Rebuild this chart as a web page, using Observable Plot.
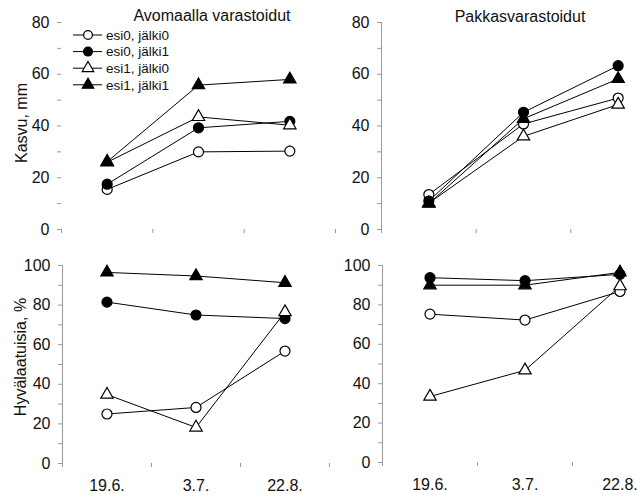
<!DOCTYPE html>
<html><head><meta charset="utf-8">
<script src="https://cdn.jsdelivr.net/npm/d3@7"></script>
<script src="https://cdn.jsdelivr.net/npm/@observablehq/plot@0.6"></script>
<style>
body{margin:0;background:#fff;}
#chart{position:relative;width:637px;height:499px;background:#fff;overflow:hidden;font-family:"Liberation Sans",Arial,sans-serif;}
#chart svg{position:absolute;left:0;top:0;}
</style></head><body><div id="chart"></div>
<script>
// ---- data ----
const dates = ["19.6.", "3.7.", "22.8."];
const seriesNames = ["esi0, jälki0", "esi0, jälki1", "esi1, jälki0", "esi1, jälki1"];
const seriesSymbols = ["circle", "circle", "triangle", "triangle"];
const seriesFills = ["white", "black", "white", "black"];

const panelTitles = ["Avomaalla varastoidut", "Pakkasvarastoidut"];
const rowLabels = ["Kasvu, mm", "Hyvälaatuisia, %"];

// Kasvu, mm — rows follow seriesNames, columns follow dates
const kasvuAvomaa = [
  [15.5, 30.0, 30.3],
  [17.5, 39.3, 41.8],
  [26.0, 43.5, 40.3],
  [26.2, 55.8, 58.0]
];
const kasvuPakkas = [
  [13.5, 40.8, 50.8],
  [11.0, 45.3, 63.3],
  [10.2, 36.0, 48.3],
  [10.0, 42.8, 58.2]
];
// Hyvälaatuisia, %
const hyvaAvomaa = [
  [25.0, 28.3, 56.8],
  [81.5, 75.0, 73.2],
  [34.8, 18.2, 76.5],
  [96.5, 94.7, 91.3]
];
const hyvaPakkas = [
  [75.3, 72.3, 86.8],
  [93.8, 92.3, 95.5],
  [33.5, 46.8, 89.5],
  [90.0, 90.0, 96.5]
];
const kasvuTicks = [0, 20, 40, 60, 80];
const hyvaTicks = [0, 20, 40, 60, 80, 100];

// ---- layout ----
const W = 637, H = 499;
const FONT = '"Liberation Sans", Arial, sans-serif';
const chart = document.getElementById("chart");

function toRows(values) {
  const rows = [];
  values.forEach((vals, s) => vals.forEach((v, i) => rows.push({
    i, v, s, name: seriesNames[s], symbol: seriesSymbols[s], fill: seriesFills[s]
  })));
  return rows;
}

const xDomain = [-0.5, dates.length - 0.5];
const boundaries = d3.range(dates.length + 1).map(k => k - 0.5);
const centers = d3.range(dates.length);

function panel({values, ticks, xRange, yRange, axisLine, xLabels}) {
  const rows = toRows(values);
  const yMax = ticks[ticks.length - 1];
  const step = ticks[1] - ticks[0];
  const minor = d3.range(0, yMax + 0.001, step / 2);
  const marks = [
    Plot.axisY({ticks: minor, tickSize: 4, tickFormat: () => "", stroke: "#9a9a9a", label: null}),
    Plot.axisY({ticks, tickSize: 0, tickPadding: 12, fontSize: 16, fill: "#111", label: null}),
    Plot.axisX({ticks: boundaries, tickSize: 4, tickFormat: () => "", stroke: "#9a9a9a", label: null})
  ];
  if (xLabels) marks.push(Plot.axisX({ticks: centers, tickSize: 0, tickPadding: 16, fontSize: 16, fill: "#111", tickFormat: i => dates[i], label: null}));
  if (axisLine) marks.push(Plot.ruleX([xDomain[0]], {stroke: "#9a9a9a", strokeWidth: 1}));
  marks.push(
    Plot.line(rows, {x: "i", y: "v", z: "s", stroke: "black", strokeWidth: 1}),
    Plot.dot(rows.filter(d => d.symbol === "circle"), {x: "i", y: "v", r: 5, symbol: "circle", fill: "fill", stroke: "black", strokeWidth: 1.2}),
    Plot.dot(rows.filter(d => d.symbol === "triangle"), {x: "i", y: "v", r: 4.6, symbol: "triangle", fill: "fill", stroke: "black", strokeWidth: 1.2})
  );
  const svg = Plot.plot({
    width: W, height: H,
    marginLeft: xRange[0], marginRight: Math.max(0, W - xRange[1]),
    marginTop: yRange[1], marginBottom: H - yRange[0],
    style: {background: "none", overflow: "visible", fontFamily: FONT, color: "#111"},
    x: {domain: xDomain, range: xRange},
    y: {domain: [0, yMax], range: yRange},
    fill: {type: "identity"},
    marks
  });
  svg.style.background = "none";
  chart.appendChild(svg);
}

panel({values: kasvuAvomaa, ticks: kasvuTicks, xRange: [61, 335], yRange: [229, 22], axisLine: false, xLabels: false});
panel({values: kasvuPakkas, ticks: kasvuTicks, xRange: [381, 665], yRange: [229, 22], axisLine: true, xLabels: false});
panel({values: hyvaAvomaa, ticks: hyvaTicks, xRange: [62, 329], yRange: [463, 265], axisLine: true, xLabels: true});
panel({values: hyvaPakkas, ticks: hyvaTicks, xRange: [382, 667], yRange: [462, 265], axisLine: true, xLabels: true});

// ---- annotations: titles, row labels, legend ----
const ann = d3.select(chart).append("svg").attr("width", W).attr("height", H)
  .style("font-family", FONT).style("overflow", "visible");
ann.append("text").attr("x", 212).attr("y", 21).attr("text-anchor", "middle")
  .attr("font-size", 16).attr("fill", "#111").text(panelTitles[0]);
ann.append("text").attr("x", 520).attr("y", 22).attr("text-anchor", "middle")
  .attr("font-size", 16).attr("fill", "#111").text(panelTitles[1]);
ann.append("text").attr("transform", "translate(27,123) rotate(-90)").attr("text-anchor", "middle")
  .attr("font-size", 16).attr("fill", "#111").text(rowLabels[0]);
ann.append("text").attr("transform", "translate(26,357) rotate(-90)").attr("text-anchor", "middle")
  .attr("font-size", 16).attr("fill", "#111").text(rowLabels[1]);

const leg = ann.append("g");
seriesNames.forEach((name, k) => {
  const y = 35 + k * 16.6;
  leg.append("line").attr("x1", 73).attr("x2", 102).attr("y1", y).attr("y2", y)
    .attr("stroke", "black").attr("stroke-width", 1);
  const sym = seriesSymbols[k] === "circle" ? d3.symbolCircle : d3.symbolTriangle;
  const size = seriesSymbols[k] === "circle" ? Math.PI * 4.4 * 4.4 : Math.PI * 4.3 * 4.3;
  leg.append("path").attr("d", d3.symbol(sym, size)()).attr("transform", `translate(88,${y})`)
    .attr("fill", seriesFills[k]).attr("stroke", "black").attr("stroke-width", 1.2);
  leg.append("text").attr("x", 106).attr("y", y).attr("dy", "0.35em")
    .attr("font-size", 13.5).attr("fill", "#111").text(name);
});
</script></body></html>
